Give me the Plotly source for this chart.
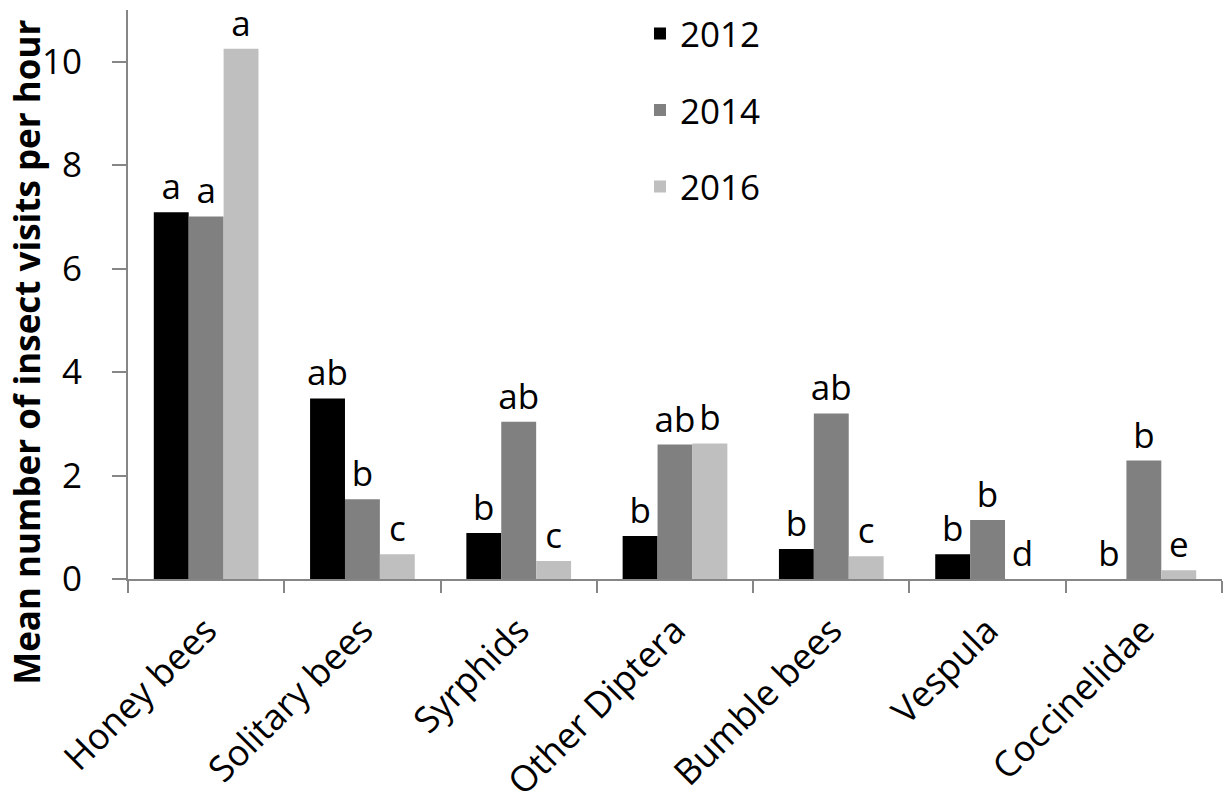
import plotly.graph_objects as go

categories = ["Honey bees", "Solitary bees", "Syrphids", "Other Diptera",
              "Bumble bees", "Vespula", "Coccinelidae"]
years = ["2012", "2014", "2016"]
vals_2012 = [7.09, 3.49, 0.89, 0.83, 0.58, 0.48, 0.0]
vals_2014 = [7.01, 1.54, 3.04, 2.60, 3.20, 1.14, 2.29]
vals_2016 = [10.25, 0.48, 0.35, 2.62, 0.44, 0.0, 0.17]
letters_2012 = ["a", "ab", "b", "b", "b", "b", "b"]
letters_2014 = ["a", "b", "ab", "ab", "ab", "b", "b"]
letters_2016 = ["a", "c", "c", "b", "c", "d", "e"]
colors = ["#000000", "#808080", "#bfbfbf"]

FONT = "Open Sans"
fig = go.Figure()
for yr, vals, let, col in zip(years, [vals_2012, vals_2014, vals_2016],
                              [letters_2012, letters_2014, letters_2016], colors):
    fig.add_trace(go.Bar(
        x=categories, y=vals, name=yr, marker=dict(color=col, line=dict(width=0)),
        text=let, textposition="outside", constraintext="none", cliponaxis=False,
        textfont=dict(family=FONT, size=35, color="black"),
        legendgroup=yr,
    ))

fig.update_layout(
    width=1226, height=805,
    margin=dict(l=128, r=4, t=8, b=226),
    paper_bgcolor="white", plot_bgcolor="white",
    barmode="group", bargap=0.33, bargroupgap=0,
    font=dict(family=FONT, color="black"),
    legend=dict(x=0.468, y=1.01, xanchor="left", yanchor="top",
                font=dict(family=FONT, size=35, color="black"),
                tracegroupgap=28, bgcolor="rgba(0,0,0,0)"),
    xaxis=dict(showline=True, linecolor="#868686", linewidth=2,
               ticks="outside", ticklen=12, tickcolor="#868686", tickwidth=2,
               tickson="boundaries", tickangle=-45, automargin=False,
               ticklabelstandoff=14,
               tickfont=dict(family=FONT, size=36, color="black"),
               showgrid=False),
    yaxis=dict(range=[0, 11], tickvals=[0, 2, 4, 6, 8, 10],
               showline=True, linecolor="#868686", linewidth=2,
               ticks="outside", ticklen=14, tickcolor="#868686", tickwidth=2,
               automargin=False, ticklabelstandoff=23,
               tickfont=dict(family=FONT, size=35, color="black"),
               showgrid=False, zeroline=False),
)
fig.add_annotation(
    text="<b>Mean number of insect visits per hour</b>",
    xref="paper", yref="paper", x=-0.0923, y=0.3975, textangle=-90,
    showarrow=False, font=dict(family=FONT, size=35, color="black"),
    xanchor="center", yanchor="middle",
)
# remove the browser's default 8px body margin so the figure fills the window
fig.write_html("out.html",
               config={"displayModeBar": False},
               post_script="document.body.style.margin='0';document.body.style.overflow='hidden';")
